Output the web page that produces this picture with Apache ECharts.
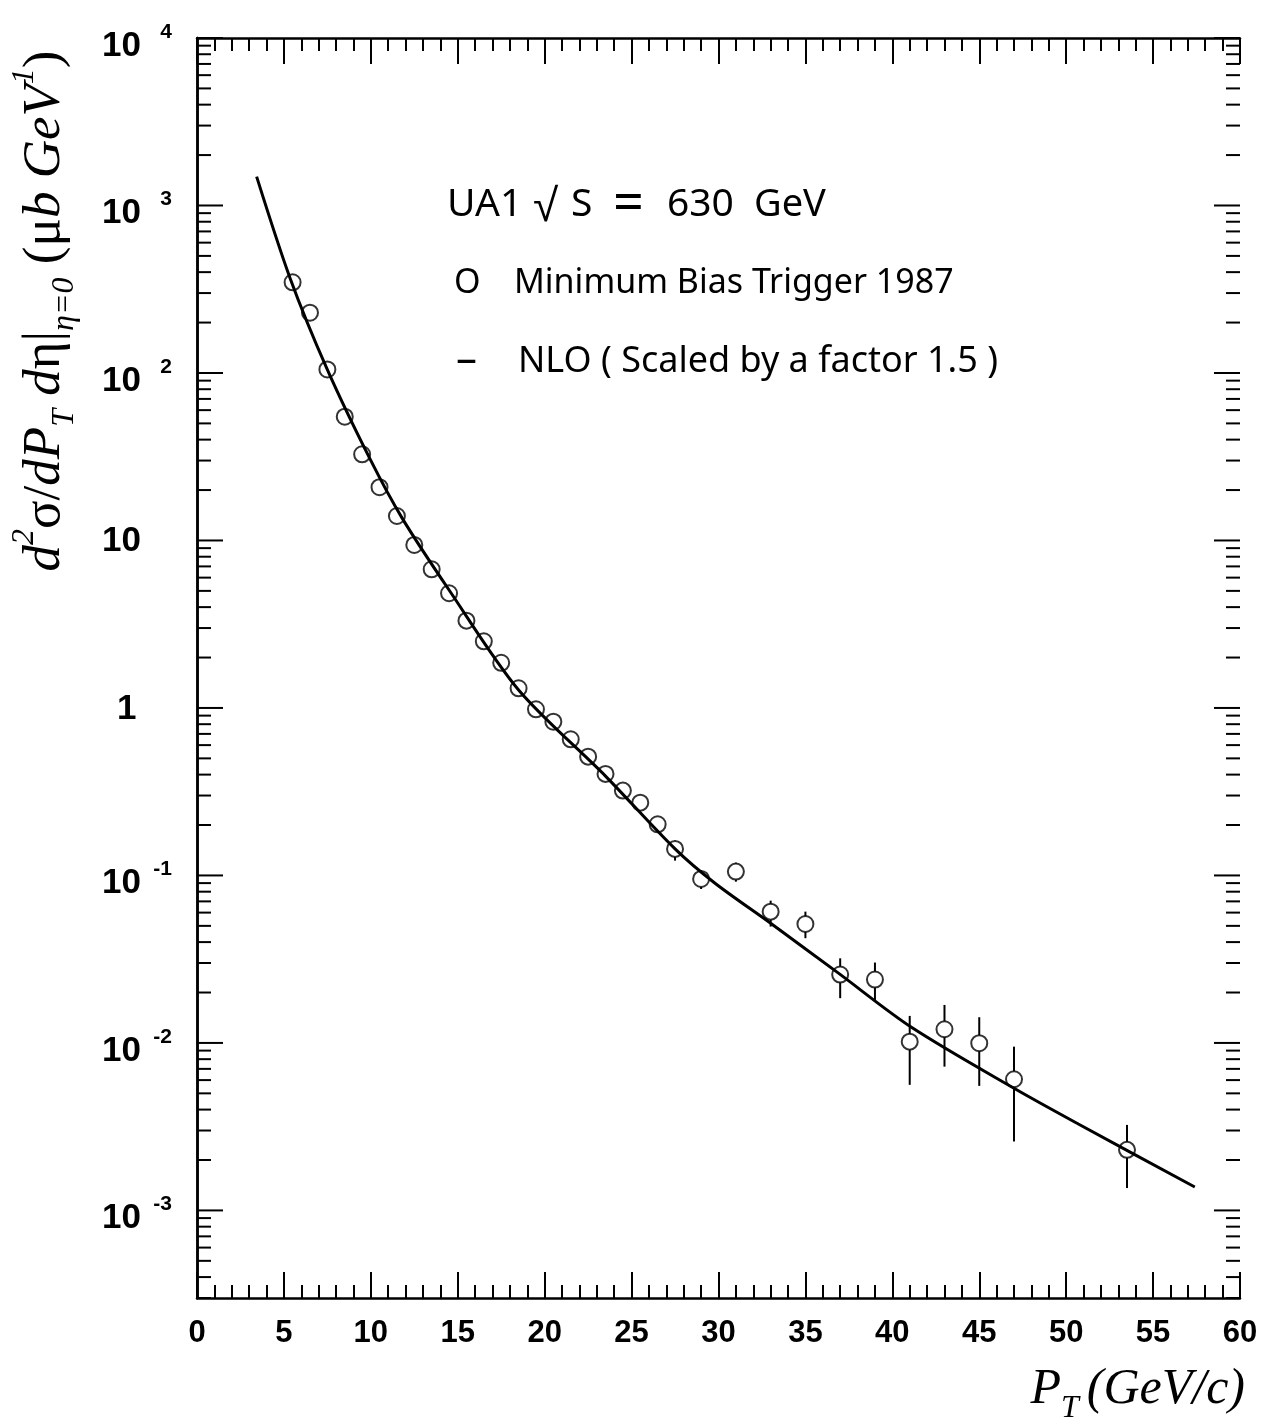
<!DOCTYPE html>
<html><head><meta charset="utf-8">
<script src="https://cdn.jsdelivr.net/npm/echarts@6/dist/echarts.min.js"></script>
<style>html,body{margin:0;padding:0;background:#fff}#c{width:1270px;height:1425px}</style>
</head><body><div id="c"></div>
<script>
// ---- data ----
const ptData = [5.5,6.5,7.5,8.5,9.5,10.5,11.5,12.5,13.5,14.5,15.5,16.5,17.5,18.5,19.5,20.5,21.5,22.5,23.5,24.5,25.5,26.5,27.5,29,31,33,35,37,39,41,43,45,47,53.5];
const sigmaData = [348,229,105,54.8,32.7,20.8,14.0,9.40,6.73,4.84,3.32,2.50,1.86,1.31,0.982,0.828,0.650,0.512,0.404,0.321,0.272,0.202,0.144,0.0953,0.1054,0.0608,0.0513,0.0256,0.0239,0.01018,0.01207,0.00996,0.00607,0.00230];
const errLow  = [null,null,null,null,null,null,null,null,null,null,null,null,null,null,null,null,null,null,null,null,null,null,0.1226,0.0830,0.0918,0.0495,0.0422,0.0185,0.01764,0.00562,0.00722,0.00554,0.00258,0.00136];
const errHigh = [null,null,null,null,null,null,null,null,null,null,null,null,null,null,null,null,null,null,null,null,null,null,0.1614,0.1078,0.1192,0.0707,0.0608,0.0320,0.0302,0.01450,0.01686,0.01424,0.00950,0.00324];
const nloPt    = [3.43,5.36,7.46,9.93,11.8,14.5,18.5,23.5,27.5,29.8,33.0,36.9,41.1,47.0,50.7,57.4];
const nloSigma = [1487,367,107,31,13.6,5.06,1.28,0.392,0.144,0.0898,0.0518,0.0261,0.0124,0.00536,0.00328,0.00138];
const yMajorTicks = [1e-3,1e-2,1e-1,1,10,100,1000,10000];
const yTickBase = ['10','10','10','1','10','10','10','10'];
const yTickExp  = ['-3','-2','-1','','','2','3','4'];
const yMinorMult = [2,3,4,5,6,7,8,9];
const xMin = 0, xMax = 60, xStep = 5;
const yMin = 3e-4, yMax = 1e4;

// ---- build series data ----
const points = ptData.map((x,i)=>[x, sigmaData[i]]);
const errData = [];
ptData.forEach((x,i)=>{ if (errLow[i]!=null) errData.push([x, sigmaData[i], errLow[i], errHigh[i]]); });
const nlo = nloPt.map((x,i)=>[x, nloSigma[i]]);
const tickData = [];
yMajorTicks.forEach((v,i)=>tickData.push([xMin, v, 1, i]));
for (let k=-4;k<4;k++) yMinorMult.forEach(m=>{ const v=m*Math.pow(10,k); if (v>=yMin*0.999 && v<=yMax) tickData.push([xMin, v, 0, -1]); });

const BLACK = '#000';
const labelFont = '"Liberation Sans", Arial, sans-serif';
const legFont = '"Noto Sans", sans-serif';
function renderYTick(params, api){
  const v = api.value(1), major = api.value(2) === 1;
  const l = api.coord([xMin, v]), r = api.coord([xMax, v]);
  const len = major ? 26 : 14;
  const st = {stroke: BLACK, lineWidth: 2};
  const ch = [
    {type:'line', shape:{x1:l[0], y1:l[1], x2:l[0]+len, y2:l[1]}, style:st},
    {type:'line', shape:{x1:r[0]-len, y1:r[1], x2:r[0], y2:r[1]}, style:st}
  ];
  if (major) {
    const i = api.value(3);
    const b = yTickBase[i], e = yTickExp[i];
    const hasE = e !== '';
    ch.push({type:'text', x: b === '1' ? 117 : 102, y: l[1] + (hasE ? 8 : 1),
      style:{text:b, font:'bold 35px ' + labelFont, fill:BLACK, align:'left', verticalAlign:'middle'}});
    if (hasE) ch.push({type:'text', x: 172, y: l[1] - 6,
      style:{text:e, font:'bold 21px ' + labelFont, fill:BLACK, align:'right', verticalAlign:'middle'}});
  }
  return {type:'group', children: ch};
}
function renderErr(params, api){
  const x = api.value(0);
  const c = api.coord([x, api.value(1)]);
  const lo = api.coord([x, api.value(2)]);
  const hi = api.coord([x, api.value(3)]);
  const r = 8, st = {stroke: BLACK, lineWidth: 2};
  const ch = [];
  if (hi[1] < c[1]-r) ch.push({type:'line', shape:{x1:c[0], y1:hi[1], x2:c[0], y2:c[1]-r}, style:st});
  if (lo[1] > c[1]+r) ch.push({type:'line', shape:{x1:c[0], y1:c[1]+r, x2:c[0], y2:lo[1]}, style:st});
  return {type:'group', children: ch};
}

const xAxisCommon = {
  type:'value', min:xMin, max:xMax, interval:xStep,
  axisLine:{show:true, lineStyle:{color:BLACK, width:2.5}},
  axisTick:{show:true, inside:true, length:26, lineStyle:{color:BLACK, width:2}},
  minorTick:{show:true, splitNumber:5, length:13, lineStyle:{color:BLACK, width:2}},
  splitLine:{show:false}, minorSplitLine:{show:false}
};
const yAxisCommon = {
  type:'log', logBase:10, min:yMin, max:yMax,
  axisLine:{show:true, lineStyle:{color:BLACK, width:2.5}},
  axisTick:{show:false}, axisLabel:{show:false}, splitLine:{show:false}, minorTick:{show:false}
};

const chart = echarts.init(document.getElementById('c'), null, {renderer:'canvas'});
chart.setOption({
  animation:false,
  backgroundColor:'#fff',
  grid:{left:197, right:30, top:38, bottom:127, containLabel:false},
  xAxis:[
    Object.assign({}, xAxisCommon, {position:'bottom',
      axisLabel:{show:true, margin:20, color:BLACK, fontSize:31, fontWeight:'bold', fontFamily:labelFont}}),
    Object.assign({}, xAxisCommon, {position:'top', axisLabel:{show:false}})
  ],
  yAxis:[
    Object.assign({}, yAxisCommon, {position:'left'}),
    Object.assign({}, yAxisCommon, {position:'right'})
  ],
  series:[
    {type:'custom', name:'yticks', xAxisIndex:0, yAxisIndex:0, data:tickData, renderItem:renderYTick, silent:true, z:5},
    {type:'line', name:'NLO', data:nlo, showSymbol:false, smooth:0.3, lineStyle:{color:BLACK, width:3}, z:3},
    {type:'custom', name:'err', data:errData, renderItem:renderErr, z:4},
    {type:'scatter', name:'Minimum Bias Trigger 1987', data:points, symbol:'circle', symbolSize:16,
      itemStyle:{color:'rgba(0,0,0,0)', borderColor:BLACK, borderWidth:2}, z:4}
  ],
  graphic:[
    {type:'text', x:447, y:205, style:{text:'UA1', font:'39px ' + legFont, fill:BLACK, verticalAlign:'middle'}},
    {type:'text', x:533, y:208, style:{text:'\u221A', font:'46px ' + legFont, fill:BLACK, verticalAlign:'middle'}},
    {type:'text', x:571, y:205, style:{text:'S', font:'39px ' + legFont, fill:BLACK, verticalAlign:'middle'}},
    {type:'text', x:613, y:206, style:{text:'=', font:'54px ' + legFont, fill:BLACK, verticalAlign:'middle'}},
    {type:'text', x:667, y:205, style:{text:'630', font:'39px ' + legFont, fill:BLACK, verticalAlign:'middle'}},
    {type:'text', x:754, y:205, style:{text:'GeV', font:'38px ' + legFont, fill:BLACK, verticalAlign:'middle'}},
    {type:'text', x:454, y:283, style:{text:'O', font:'34px ' + legFont, fill:BLACK, verticalAlign:'middle'}},
    {type:'text', x:514, y:283, style:{text:'Minimum Bias Trigger 1987', font:'34px ' + legFont, fill:BLACK, verticalAlign:'middle'}},
    {type:'text', x:456, y:361, style:{text:'\u2013', font:'42px ' + legFont, fill:BLACK, verticalAlign:'middle'}},
    {type:'text', x:518, y:362, style:{text:'NLO ( Scaled by a factor 1.5 )', font:'36px ' + legFont, fill:BLACK, verticalAlign:'middle'}},
    {type:'text', x:45, y:311, rotation:Math.PI/2,
      style:{text:'{i|d}{sup|2}{n|\u03C3/}{i|dP}{sub|T}{i| d}{n|\u03B7|}{sub|\u03B7=0}{n| (\u03BC}{i|b GeV}{sup|1}{n|)}',
        align:'center', verticalAlign:'middle', fill:BLACK,
        rich:{
          i:{font:'italic 53px "Liberation Serif", serif', lineHeight:72, verticalAlign:'middle'},
          n:{font:'53px "Liberation Serif", serif', lineHeight:72, verticalAlign:'middle'},
          sup:{font:'italic 32px "Liberation Serif", serif', lineHeight:32, verticalAlign:'top'},
          sub:{font:'italic 32px "Liberation Serif", serif', lineHeight:32, verticalAlign:'bottom'}
        }}},
    {type:'text', x:1245, y:1390,
      style:{text:'{i|P}{sub|T}{i|(GeV/c)}', align:'right', verticalAlign:'middle', fill:BLACK,
        rich:{
          i:{font:'italic 50px "Liberation Serif", serif', lineHeight:70, verticalAlign:'middle'},
          sub:{font:'italic 32px "Liberation Serif", serif', lineHeight:32, verticalAlign:'bottom', padding:[0,8,0,0]}
        }}}
  ]
});
</script></body></html>
